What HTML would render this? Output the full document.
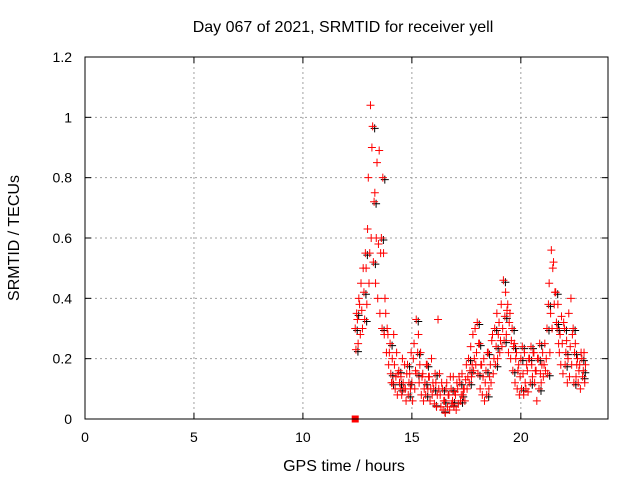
<!DOCTYPE html>
<html><head><meta charset="utf-8"><style>
body{margin:0;background:#fff}
svg text{font-family:"Liberation Sans",sans-serif;font-size:14px;fill:#000}
svg text.big{font-size:16px}
</style></head><body>
<svg id="chart" width="640" height="480">
<rect width="640" height="480" fill="#fff"/>
<text class="big" x="343" y="32" text-anchor="middle">Day 067 of 2021, SRMTID for receiver yell</text>
<text class="big" x="344" y="471" text-anchor="middle">GPS time / hours</text>
<text class="big" transform="translate(19,238) rotate(-90)" text-anchor="middle">SRMTID / TECUs</text>
<g id="grid"></g>
<g id="ticks"></g>
<g id="marks"></g>
<rect x="85" y="57" width="523" height="362" fill="none" stroke="#000" stroke-width="1"/>
</svg>
<script>
const xTicks=[0,5,10,15,20];
const yTicks=[0,0.2,0.4,0.6,0.8,1,1.2];
const yTickLabels=["0","0.2","0.4","0.6","0.8","1","1.2"];
const times=[12.4,12.5,12.6,12.7,12.8,12.9,13.0,13.1,13.2,13.3,13.4,13.5,13.6,13.7,13.8,13.9,14.0,14.1,14.2,14.3,14.4,14.5,14.6,14.7,14.8,14.9,15.0,15.1,15.2,15.3,15.4,15.5,15.6,15.7,15.8,15.9,16.0,16.1,16.2,16.3,16.4,16.5,16.6,16.7,16.8,16.9,17.0,17.1,17.2,17.3,17.4,17.5,17.6,17.7,17.8,17.9,18.0,18.1,18.2,18.3,18.4,18.5,18.6,18.7,18.8,18.9,19.0,19.1,19.2,19.3,19.4,19.5,19.6,19.7,19.8,19.9,20.0,20.1,20.2,20.3,20.4,20.5,20.6,20.7,20.8,20.9,21.0,21.1,21.2,21.3,21.4,21.5,21.6,21.7,21.8,21.9,22.0,22.1,22.2,22.3,22.4,22.5,22.6,22.7,22.8,22.9];
const valsA=[.30,.33,.38,.36,.42,.50,.80,1.04,.97,.75,.85,.89,.60,.55,.35,.28,.25,.20,.18,.22,.16,.14,.12,.10,.18,.15,.12,.25,.33,.28,.22,.15,.12,.18,.14,.20,.10,.12,.33,.08,.10,.06,.12,.08,.10,.14,.08,.10,.12,.15,.10,.18,.20,.24,.28,.30,.32,.25,.18,.20,.16,.22,.18,.28,.30,.35,.32,.38,.46,.42,.38,.35,.30,.25,.22,.18,.20,.15,.12,.16,.20,.18,.22,.16,.20,.15,.22,.25,.30,.45,.56,.52,.42,.38,.28,.25,.30,.26,.35,.40,.30,.25,.20,.18,.20,.22];
const valsB=[.23,.25,.28,.30,.33,.38,.45,.60,.52,.45,.40,.35,.30,.28,.22,.18,.15,.12,.10,.08,.12,.08,.10,.06,.08,.10,.06,.10,.15,.12,.08,.06,.08,.10,.06,.08,.05,.04,.10,.04,.03,.02,.04,.03,.05,.04,.03,.05,.06,.08,.06,.10,.12,.14,.16,.18,.15,.10,.08,.06,.08,.10,.12,.15,.18,.20,.22,.24,.26,.28,.22,.20,.16,.12,.10,.08,.10,.08,.10,.09,.12,.14,.12,.06,.10,.12,.14,.16,.15,.22,.30,.38,.32,.25,.18,.15,.18,.12,.14,.18,.12,.14,.12,.10,.14,.12];
const valsC=[.35,.40,.45,.50,.55,.63,.55,.90,.72,.60,.58,.55,.80,.40,.30,.22,.12,.28,.14,.15,.10,.20,.18,.15,.12,.22,.20,.16,.22,.18,.14,.10,.18,.14,.10,.12,.15,.08,.15,.12,.06,.10,.08,.14,.06,.09,.12,.14,.08,.10,.13,.14,.16,.18,.20,.22,.25,.18,.14,.12,.22,.14,.26,.20,.24,.28,.26,.30,.34,.36,.32,.26,.24,.20,.16,.14,.24,.22,.18,.20,.24,.22,.16,.20,.25,.18,.18,.20,.38,.35,.50,.42,.30,.22,.34,.32,.22,.20,.24,.28,.22,.18,.16,.22,.16,.18];
const X=t=>85+t*(523/24);
const Y=v=>419-v*(362/1.2);
const NS='http://www.w3.org/2000/svg';
function mk(tag,attrs,parent){const e=document.createElementNS(NS,tag);for(const k in attrs)e.setAttribute(k,attrs[k]);parent.appendChild(e);return e;}
const grid=document.getElementById('grid'),ticks=document.getElementById('ticks'),marks=document.getElementById('marks');
yTicks.forEach((v,i)=>{
  const y=Y(v);
  if(v>0&&v<1.2){const g=mk('line',{x1:85,x2:608,y1:y,y2:y,stroke:'#a0a0a0','stroke-dasharray':'2,3'},grid);
  
  }
  mk('line',{x1:85,x2:91,y1:y,y2:y,stroke:'#000'},ticks);
  mk('line',{x1:602,x2:608,y1:y,y2:y,stroke:'#000'},ticks);
  const t=mk('text',{x:72,y:y+5,'text-anchor':'end'},ticks);t.textContent=yTickLabels[i];
  
  
});
xTicks.forEach(v=>{
  const x=X(v);
  if(v>0){const g=mk('line',{x1:x,x2:x,y1:57,y2:419,stroke:'#a0a0a0','stroke-dasharray':'2,3'},grid);
  
  }
  mk('line',{x1:x,x2:x,y1:413,y2:419,stroke:'#000'},ticks);
  mk('line',{x1:x,x2:x,y1:57,y2:63,stroke:'#000'},ticks);
  const t=mk('text',{x:x,y:442,'text-anchor':'middle'},ticks);t.textContent=String(v);
  
  
});
function plus(x,y,col){
  const p=mk('path',{d:`M${x-4},${y}h8M${x},${y-4}v8`,stroke:col,'stroke-width':1,fill:'none'},marks);
  
  
}
const series=[valsA,valsB,valsC];
series.forEach((vals,s)=>times.forEach((t,i)=>{if(i%4===0)plus(X(t+s*0.033)+2,Y(vals[i])+2,'#000');}));
series.forEach((vals,s)=>times.forEach((t,i)=>plus(X(t+s*0.033),Y(vals[i]),'#f00')));
const sq=mk('rect',{x:X(12.4)-3.5,y:Y(0)-3.5,width:7,height:7,fill:'#f00'},marks);


</script>
</body></html>
